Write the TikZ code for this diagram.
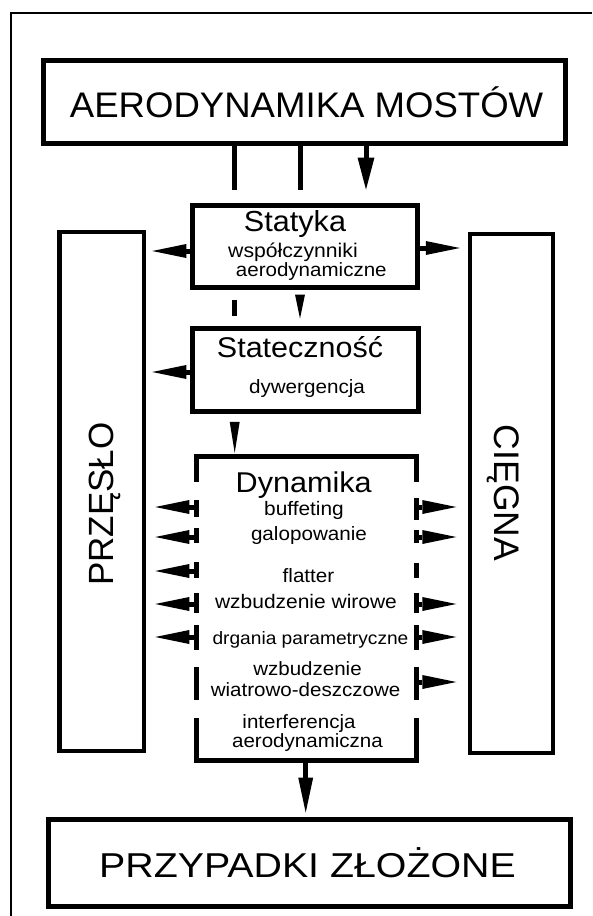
\documentclass[tikz,border=0pt]{standalone}
\usepackage{fontspec}
\usepackage{graphicx}
\setmainfont{Liberation Sans}
\usetikzlibrary{arrows.meta}
\newcommand\sx[3]{\scalebox{#2}[1]{\fontsize{#1}{#1}\selectfont #3}}
\begin{document}
\begin{tikzpicture}[x=1pt,y=-1pt,
  box/.style={draw,line width=5pt,inner sep=0pt},
  side/.style={draw,line width=4.5pt,inner sep=0pt},
  lbl/.style={anchor=base,inner sep=0pt},
  ln/.style={line width=5pt},
  arr/.style={line width=5pt,-{Triangle[length=34pt,width=14pt,line width=0pt]}},
]
\fill[white] (0,0) rectangle (592,916);
\useasboundingbox (0,0) rectangle (592,916);
\draw[line width=2pt] (11,916) -- (11,13) -- (592,13);

% boxes
\node[box,minimum width=522pt,minimum height=83pt] (top) at (304,101.5) {};
\node[box,minimum width=225pt,minimum height=82pt] (stat) at (304.5,246) {};
\node[box,minimum width=225.4pt,minimum height=83pt] (stab) at (305.3,369.5) {};
\node[inner sep=0pt,minimum width=220pt,minimum height=303pt] (dyn) at (306.5,608.5) {};
\node[side,minimum width=84.5pt,minimum height=519pt] (prz) at (101.75,491.5) {};
\node[side,minimum width=82.7pt,minimum height=519pt] (cie) at (511.4,493.5) {};
\node[box,minimum width=522.8pt,minimum height=87pt] (bot) at (309.4,862.5) {};

% texts
\node[lbl] (topT) at (306.6,117) {\sx{35.5}{1.03}{AERODYNAMIKA MOSTÓW}};
\node[lbl] (statT) at (295,231.7) {\sx{29}{1.055}{Statyka}};
\node[lbl] (statA) at (293,257) {\sx{19.8}{1.07}{współczynniki}};
\node[lbl] (statB) at (311.3,276) {\sx{19.2}{1.07}{aerodynamiczne}};
\node[lbl] (stabT) at (300,357) {\sx{28.5}{1.07}{Stateczność}};
\node[lbl] (stabA) at (307,393) {\sx{19.3}{1.07}{dywergencja}};
\node[lbl] (dynT) at (303.7,492) {\sx{28.6}{1.07}{Dynamika}};
\node[lbl] (d1) at (304,515) {\sx{19.5}{1.07}{buffeting}};
\node[lbl] (d2) at (309,540) {\sx{19.3}{1.07}{galopowanie}};
\node[lbl] (d3) at (308.5,582) {\sx{19.3}{1.07}{flatter}};
\node[lbl] (d4) at (306,608) {\sx{19.6}{1.07}{wzbudzenie wirowe}};
\node[lbl] (d5) at (310.5,644) {\sx{17.9}{1.07}{drgania parametryczne}};
\node[lbl] (d6) at (307.5,675) {\sx{19.2}{1.07}{wzbudzenie}};
\node[lbl] (d7) at (305.6,696) {\sx{19.2}{1.07}{wiatrowo-deszczowe}};
\node[lbl] (d8) at (299,728) {\sx{19.2}{1.07}{interferencja}};
\node[lbl] (d9) at (307.5,747) {\sx{19.2}{1.07}{aerodynamiczna}};
\node[lbl] (botT) at (307.5,877) {\sx{34.5}{1.14}{PRZYPADKI ZŁOŻONE}};
\node[lbl,rotate=90] (przT) at (113,504) {\fontsize{35}{35}\selectfont PRZĘSŁO};
\node[lbl,rotate=-90] (cieT) at (494,493) {\fontsize{35.5}{35.5}\selectfont CIĘGNA};

% column coordinates
\coordinate (xa) at (234.7,0);
\coordinate (xb) at (300,0);
\coordinate (xc) at (366,0);
\coordinate (xm) at (305.7,0);

% top -> statyka
\draw[ln,shorten >=13pt] (top.south -| xa) -- (stat.north -| xa);
\draw[ln,shorten >=13pt] (top.south -| xb) -- (stat.north -| xb);
\draw[ln,-{Triangle[length=32pt,width=17pt,line width=0pt]},shorten >=13pt] (top.south -| xc) -- (stat.north -| xc);

% statyka side arrows
\draw[arr,shorten >=6pt] (stat.west |- 0,251) -- (prz.east |- 0,251);
\draw[arr,shorten >=8pt] (stat.east |- 0,248) -- (cie.west |- 0,248);

% statyka -> statecznosc
\draw[ln,shorten <=10pt,shorten >=10pt] (stat.south -| xa) -- (stab.north -| xa);
\draw[ln,-{Triangle[length=24pt,width=10pt,line width=0pt]},shorten <=10pt,shorten >=7pt] (stat.south -| xb) -- (stab.north -| xb);

% statecznosc side arrow
\draw[arr,shorten >=6pt] (stab.west |- 0,372) -- (prz.east |- 0,372);

% statecznosc -> dynamika
\draw[ln,-{Triangle[length=31pt,width=10pt,line width=0pt]},shorten <=11pt,shorten >=4pt] (stab.south -| xa) -- (dyn.north -| xa);

% dynamika border (dashed sides)
\draw[ln] (dyn.west |- 0,482) -- (dyn.north west) -- (dyn.north east) -- (dyn.east |- 0,482);
\draw[ln] (dyn.west |- 0,718) -- (dyn.south west) -- (dyn.south east) -- (dyn.east |- 0,718);
\foreach \a/\b in {500/517,528/543,562/578,593/613,625/650,667/700}
  \draw[ln] (dyn.west |- 0,\a) -- (dyn.west |- 0,\b);
\foreach \a/\b in {498/520,530/543,563/578,593/613,625/650,667/700}
  \draw[ln] (dyn.east |- 0,\a) -- (dyn.east |- 0,\b);

% dynamika side arrows
\foreach \v in {507,537,571,604,637}
  \draw[arr,shorten >=9pt] (dyn.west |- 0,\v) -- (prz.east |- 0,\v);
\foreach \v in {507,537,604,637,682}
  \draw[arr,shorten >=11.5pt] (dyn.east |- 0,\v) -- (cie.west |- 0,\v);

% dynamika -> przypadki
\draw[ln,-{Triangle[length=35pt,width=15pt,line width=0pt]},shorten >=4pt] (dyn.south -| xm) -- (bot.north -| xm);
\end{tikzpicture}
\end{document}
